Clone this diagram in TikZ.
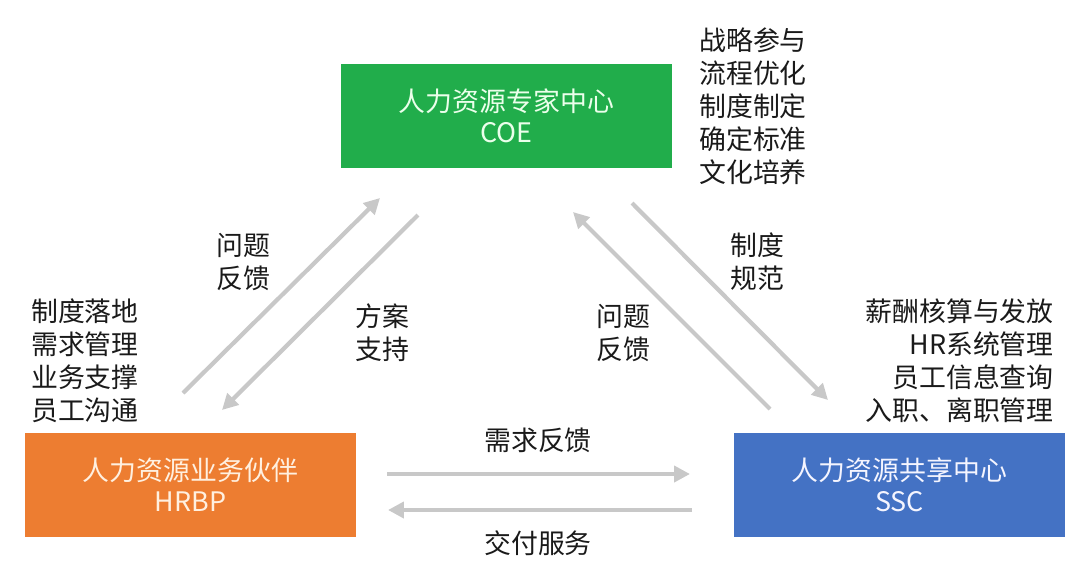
\documentclass[tikz,border=0pt]{standalone}
\usepackage{fontspec}
\setmainfont{Noto Sans CJK SC}
\usetikzlibrary{positioning, arrows.meta}
\definecolor{cCoe}{RGB}{33, 173, 75}
\definecolor{cHrbp}{RGB}{237, 125, 49}
\definecolor{cSsc}{RGB}{68, 114, 196}
\definecolor{cArrow}{RGB}{200, 200, 200}
\definecolor{cText}{RGB}{26, 26, 26}

\begin{document}
\begin{tikzpicture}[
    x=0.02cm,
    y=-0.02cm,
    box/.style={rectangle, minimum width=6.62cm, minimum height=2.08cm, align=center, inner sep=0pt, font=\fontsize{15.3}{17.5}\selectfont},
    flow/.style={-{Triangle[length=9pt, width=9pt]}, draw=cArrow, line width=2.4pt},
    txt/.style={inner sep=0pt, text=cText, font=\fontsize{15.3}{18.8}\selectfont}
]

    % --- Rahmen ---
    \useasboundingbox (0,0) rectangle (1080,566);

    % --- Drei Zentren ---
    \node (coe) [box, fill=cCoe, text=green!8] at (506.5,116) {人力资源专家中心\\COE};
    \node (hrbp) [box, fill=cHrbp, text=orange!12] at (190.5,485) {人力资源业务伙伴\\HRBP};
    \node (ssc) [box, fill=cSsc, text=blue!4] at (899.5,485) {人力资源共享中心\\SSC};

    % --- Aufgaben ---
    \node (coeTasks) [txt, align=left] at (753,106.5) {战略参与\\流程优化\\制度制定\\确定标准\\文化培养};
    \node (hrbpTasks) [txt, align=left] at (85,361) {制度落地\\需求管理\\业务支撑\\员工沟通};
    \node (sscTasks) [txt, align=right, anchor=east] at (1054,361) {薪酬核算与发放\\HR系统管理\\员工信息查询\\入职、离职管理};

    % --- Endpunkte der Pfeile ---
    \coordinate (hrbpUp) at (183,393);
    \coordinate (coeDownL) at (380,198);
    \coordinate (coeOutL) at (418,215);
    \coordinate (hrbpIn) at (222,410);
    \coordinate (sscUp) at (770,409);
    \coordinate (coeDownR) at (573,212);
    \coordinate (coeOutR) at (632,203);
    \coordinate (sscIn) at (828,400);
    \coordinate (hrbpOut) at (387,474);
    \coordinate (sscInH) at (690,474);
    \coordinate (sscOut) at (692,510);
    \coordinate (hrbpInH) at (388,510);

    % --- Pfeile ---
    \draw[flow] (hrbpUp) -- (coeDownL);
    \draw[flow] (coeOutL) -- (hrbpIn);
    \draw[flow] (sscUp) -- (coeDownR);
    \draw[flow] (coeOutR) -- (sscIn);
    \draw[flow] (hrbpOut) -- (sscInH);
    \draw[flow] (sscOut) -- (hrbpInH);

    % --- Beschriftung ---
    \node (fbLeft) [txt, align=left] at (243,262) {问题\\反馈};
    \node (support) [txt, align=left] at (382,333) {方案\\支持};
    \node (rules) [txt, align=left] at (757,262) {制度\\规范};
    \node (fbRight) [txt, align=left] at (623,333) {问题\\反馈};
    \node (demand) [txt] at (538,440) {需求反馈};
    \node (service) [txt] at (538,543) {交付服务};

\end{tikzpicture}
\end{document}
